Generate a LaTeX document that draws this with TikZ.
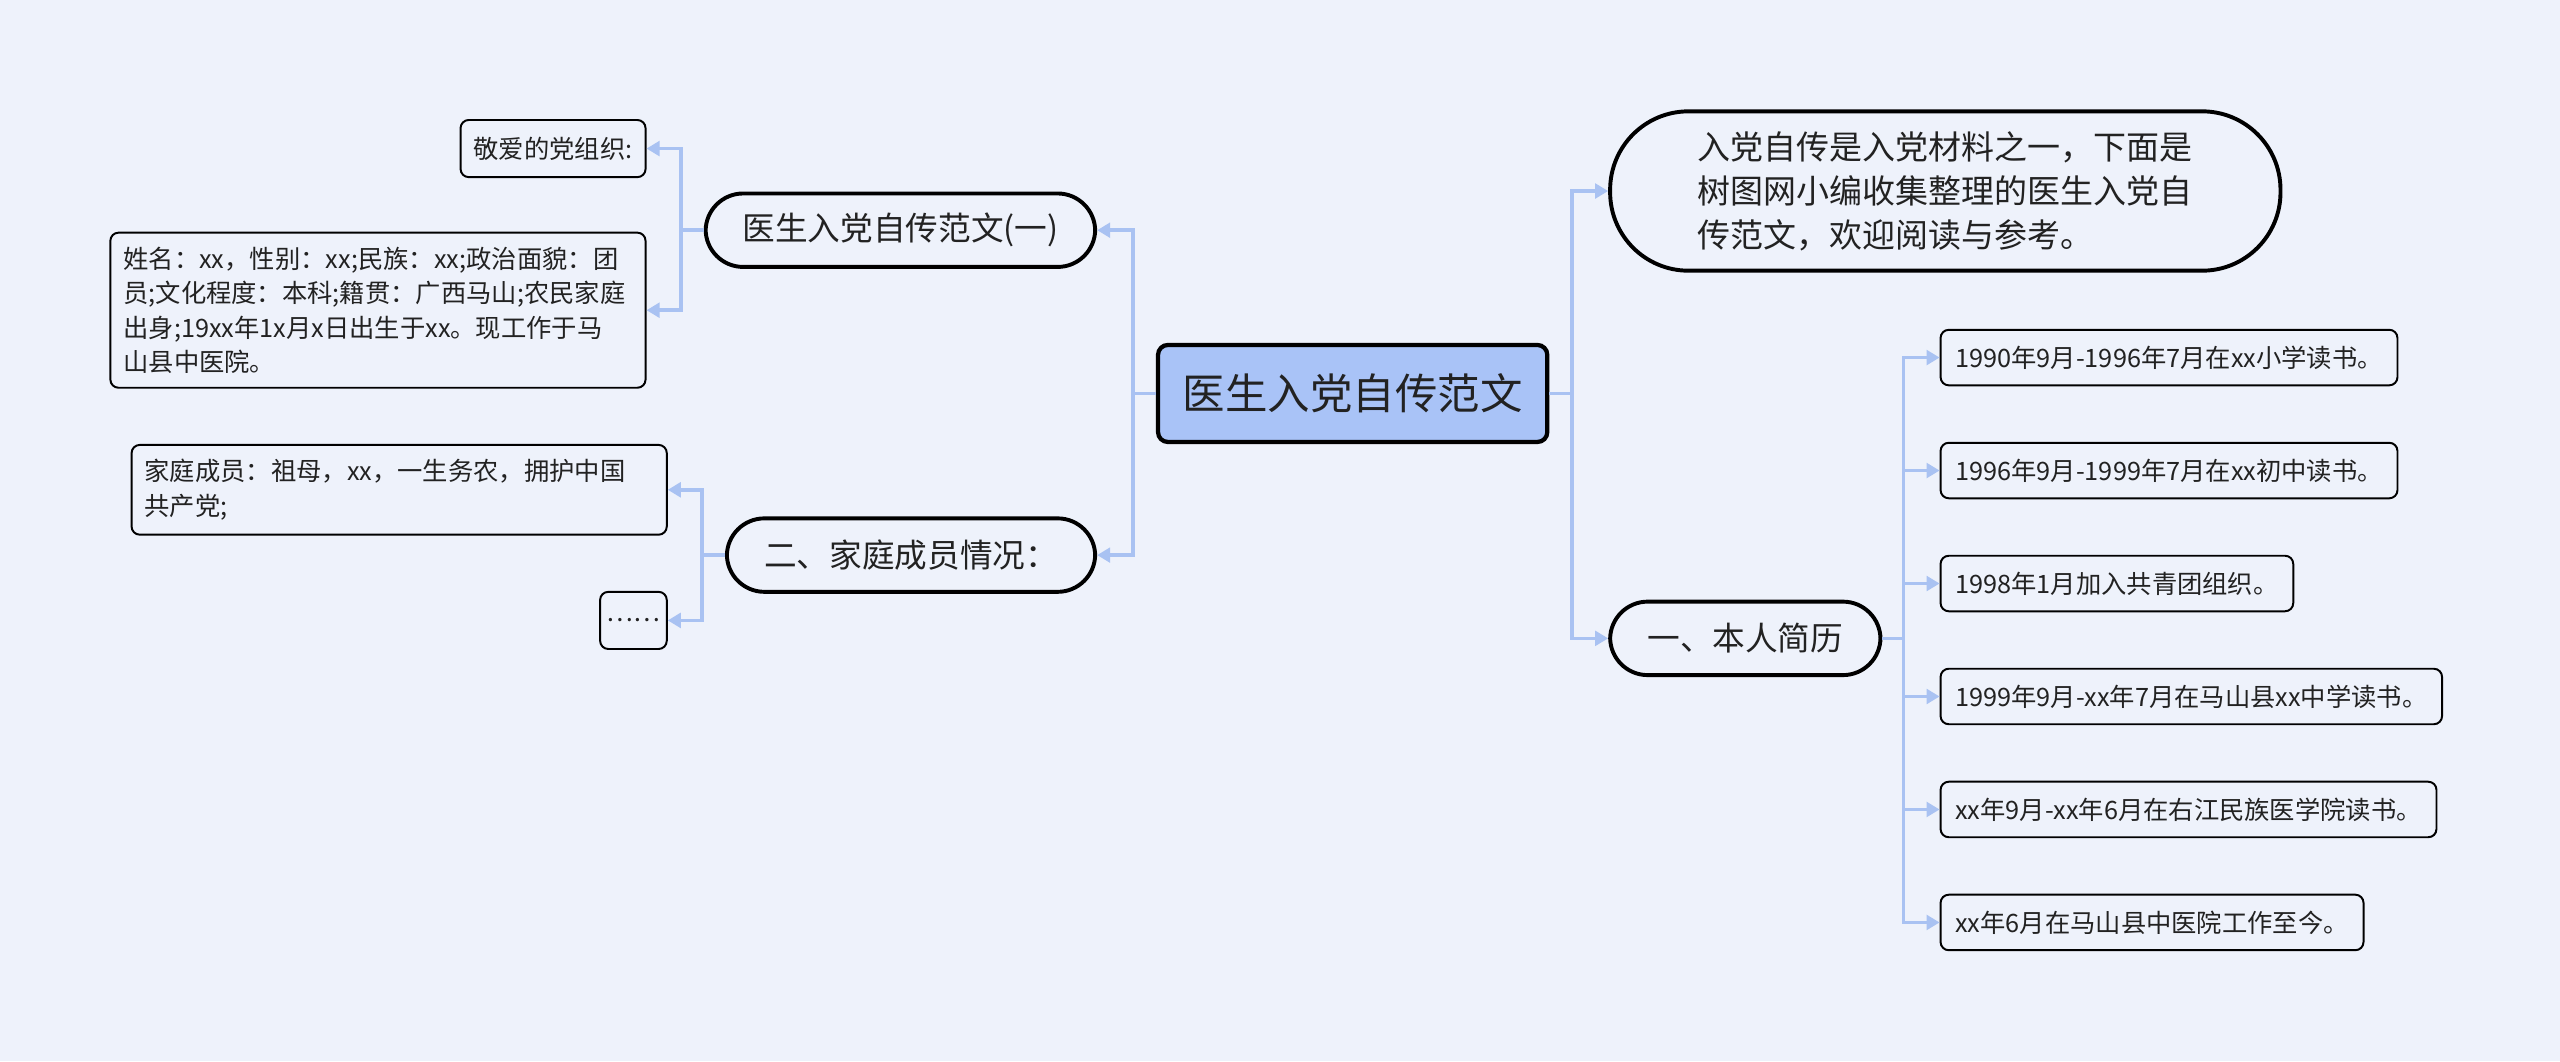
\documentclass[tikz,border=0pt]{standalone}
\usepackage{fontspec}
\newfontfamily\cjk{Noto Sans CJK SC}
\usetikzlibrary{arrows.meta,positioning}
\definecolor{bgblue}{HTML}{EEF2FB}
\definecolor{rootblue}{HTML}{A9C3F7}
\definecolor{linkblue}{HTML}{A9C2F2}
\definecolor{ink}{HTML}{222222}

\begin{document}
\begin{tikzpicture}[x=1pt,y=1pt,>={Triangle[length=8pt,width=9pt]},node distance=36pt]
  \tikzstyle{pill}=[draw,line width=2.4pt,rounded corners=23pt,minimum height=45pt,align=center,fill=bgblue,text=ink,font=\cjk\fontsize{20}{26}\selectfont]
  \tikzstyle{leaf}=[draw,line width=1.2pt,rounded corners=5pt,minimum height=34pt,inner xsep=9pt,align=left,fill=bgblue,text=ink,font=\cjk\fontsize{15.5}{21}\selectfont]
  \tikzstyle{link}=[draw=linkblue,line width=2.2pt,->]
  \useasboundingbox[fill=bgblue] (0,0) rectangle (1568,-650);
  \node[draw,line width=2.6pt,rounded corners=6pt,fill=rootblue,minimum width=238.4pt,minimum height=59.4pt,text=ink,font=\cjk\fontsize{26}{30}\selectfont] (root) at (828.5,-241) {医生入党自传范文};
  % right side
  \node[pill,rounded corners=48pt,minimum width=410.6pt,minimum height=97.6pt,align=left,font=\cjk\fontsize{20.2}{27}\selectfont,right=36pt of root,yshift=124pt] (intro) {入党自传是入党材料之一，下面是\\树图网小编收集整理的医生入党自\\传范文，欢迎阅读与参考。\hspace*{10pt}};
  \node[pill,minimum width=165.6pt,right=36pt of root,yshift=-150pt] (resume) {一、本人简历};
  \node[leaf,right=35pt of resume,yshift=172pt] (l1) {1990年9月-1996年7月在xx小学读书。};
  \node[leaf,below=34pt of l1.south west,anchor=north west] (l2) {1996年9月-1999年7月在xx初中读书。};
  \node[leaf,below=34pt of l2.south west,anchor=north west] (l3) {1998年1月加入共青团组织。};
  \node[leaf,below=34pt of l3.south west,anchor=north west] (l4) {1999年9月-xx年7月在马山县xx中学读书。};
  \node[leaf,below=34pt of l4.south west,anchor=north west] (l5) {xx年9月-xx年6月在右江民族医学院读书。};
  \node[leaf,below=34pt of l5.south west,anchor=north west] (l6) {xx年6月在马山县中医院工作至今。};
  % left side
  \node[pill,minimum width=238.6pt,left=36pt of root,yshift=100pt] (sub1) {医生入党自传范文(一)};
  \node[pill,minimum width=225.6pt,left=36pt of root,yshift=-99pt] (sub2) {二、家庭成员情况：};
  \node[leaf,minimum height=35pt,inner xsep=8pt,left=35pt of sub1,yshift=50pt] (greet) {敬爱的党组织:};
  \node[leaf,text width=311.8pt,inner xsep=8pt,minimum height=95pt,left=35pt of sub1,yshift=-49pt] (info) {姓名：xx，性别：xx;民族：xx;政治面貌：团\\员;文化程度：本科;籍贯：广西马山;农民家庭\\出身;19xx年1x月x日出生于xx。现工作于马\\山县中医院。};
  \node[leaf,text width=311.8pt,inner xsep=8pt,minimum height=55pt,left=35pt of sub2,yshift=40pt] (family) {家庭成员：祖母，xx，一生务农，拥护中国\\共产党;};
  \node[leaf,minimum width=40pt,minimum height=35pt,inner xsep=4pt,left=35pt of sub2,yshift=-40pt] (dots) {……};
  % connectors
  \draw[link] (root.east) -- ++(14pt,0) |- (intro.west);
  \draw[link] (root.east) -- ++(14pt,0) |- (resume.west);
  \draw[link] (root.west) -- ++(-14pt,0) |- (sub1.east);
  \draw[link] (root.west) -- ++(-14pt,0) |- (sub2.east);
  \draw[link] (resume.east) -- ++(13pt,0) |- (l1.west);
  \draw[link] (resume.east) -- ++(13pt,0) |- (l2.west);
  \draw[link] (resume.east) -- ++(13pt,0) |- (l3.west);
  \draw[link] (resume.east) -- ++(13pt,0) |- (l4.west);
  \draw[link] (resume.east) -- ++(13pt,0) |- (l5.west);
  \draw[link] (resume.east) -- ++(13pt,0) |- (l6.west);
  \draw[link] (sub1.west) -- ++(-14pt,0) |- (greet.east);
  \draw[link] (sub1.west) -- ++(-14pt,0) |- (info.east);
  \draw[link] (sub2.west) -- ++(-14pt,0) |- (family.east);
  \draw[link] (sub2.west) -- ++(-14pt,0) |- (dots.east);
\end{tikzpicture}
\end{document}
